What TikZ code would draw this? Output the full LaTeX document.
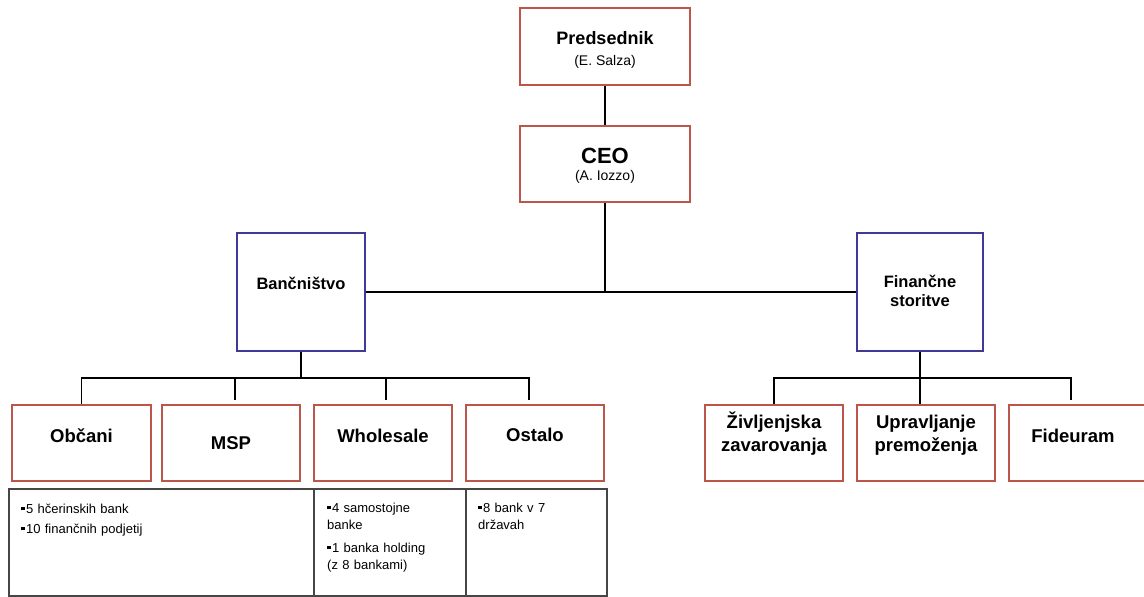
\documentclass[tikz,border=0pt]{standalone}
\usepackage{fontspec}
\setmainfont{Liberation Sans}
\usetikzlibrary{calc}
\definecolor{unitred}{RGB}{188,86,74}
\definecolor{divblue}{RGB}{64,58,150}
\definecolor{gridgray}{RGB}{70,70,70}
% small square bullet
\newcommand\sqbul{\raisebox{0.2em}{\rule{0.3em}{0.3em}}\kern1pt}
\tikzset{
  unit/.style={draw=unitred, line width=1.6pt, fill=white, inner sep=0pt},
  division/.style={draw=divblue, line width=1.6pt, fill=white, inner sep=0pt},
  cell/.style={draw=gridgray, line width=1.4pt, inner sep=0pt},
  link/.style={line width=1.5pt, draw=black},
  headtxt/.style={inner sep=0pt, anchor=base, font=\bfseries\fontsize{18}{20}\selectfont},
  subtxt/.style={inner sep=0pt, anchor=base, font=\fontsize{14}{16}\selectfont},
  divtxt/.style={inner sep=0pt, anchor=base, align=center, font=\bfseries\fontsize{16.5}{19}\selectfont},
  unittxt/.style={inner sep=0pt, anchor=base, align=center, font=\bfseries\fontsize{18.5}{23}\selectfont},
  listtxt/.style={inner sep=0pt, anchor=base west, align=left, font=\fontsize{13}{17}\selectfont},
}
\begin{document}
\begin{tikzpicture}[x=1pt, y=-1pt]
\useasboundingbox (0,0) rectangle (1144,597);

% management
\node[unit, minimum width=170pt, minimum height=77pt] (pres) at (605,46.5) {};
\node[unit, minimum width=170pt, minimum height=76pt] (ceo) at (605,164) {};
\node[headtxt] (presT) at (605,44) {Predsednik};
\node[subtxt] (presS) at (605,65) {(E. Salza)};
\node[headtxt, font=\bfseries\fontsize{22}{24}\selectfont] (ceoT) at (605,163) {CEO};
\node[subtxt] (ceoS) at (605,180) {(A. Iozzo)};

% divisions (two-line labels are placed by their last baseline)
\node[division, minimum width=128pt, minimum height=118pt] (bank) at (301,292) {};
\node[division, minimum width=126pt, minimum height=118pt] (fin) at (920,292) {};
\node[divtxt] (bankT) at (301,289) {Bančništvo};
\node[divtxt] (finT) at (920,306) {Finančne\\storitve};

% business units
\node[unit, minimum width=139pt, minimum height=76pt] (obc) at (81.5,443) {};
\node[unit, minimum width=138pt, minimum height=76pt] (msp) at (231,443) {};
\node[unit, minimum width=138pt, minimum height=76pt] (whs) at (383,443) {};
\node[unit, minimum width=138pt, minimum height=76pt] (ost) at (535,443) {};
\node[unit, minimum width=138pt, minimum height=76pt] (ziv) at (774,443) {};
\node[unit, minimum width=138pt, minimum height=76pt] (upr) at (926,443) {};
\node[unit, minimum width=138pt, minimum height=76pt] (fid) at (1078,443) {};

\node[unittxt] (obcT) at (81.5,442) {Občani};
\node[unittxt] (mspT) at (231,449) {MSP};
\node[unittxt] (whsT) at (383,442) {Wholesale};
\node[unittxt] (ostT) at (535,441) {Ostalo};
\node[unittxt] (zivT) at (774,451) {Življenjska\\zavarovanja};
\node[unittxt] (uprT) at (926,451) {Upravljanje\\premoženja};
\node[unittxt] (fidT) at (1073,442) {Fideuram};

% detail table
\node[cell, minimum width=305pt, minimum height=107pt] (c1) at (161.5,542.5) {};
\node[cell, minimum width=152pt, minimum height=107pt] (c2) at (390,542.5) {};
\node[cell, minimum width=141pt, minimum height=107pt] (c3) at (536.5,542.5) {};
\node[listtxt, text width=280pt] (c1T) at (21,513)
  {\sqbul 5 hčerinskih bank\\[3pt]\sqbul 10 finančnih podjetij};
\node[listtxt, text width=135pt] (c2T) at (327,512)
  {\sqbul 4 samostojne\\banke\\[6pt]\sqbul 1 banka holding\\(z 8 bankami)};
\node[listtxt, text width=125pt] (c3T) at (478,512)
  {\sqbul 8 bank v 7\\državah};

% connectors
\coordinate (bus) at (0,378);
\draw[link] (pres) -- (ceo);
\draw[link] (ceo.south) -- (ceo.south |- bank.east);
\draw[link] (bank.east) -- (bank.east -| fin.west);

\draw[link] (bank.south) -- (bank.south |- bus);
\draw[link] (obc.north) -- (obc.north |- bus) -- ([xshift=-6pt]ost.north |- bus) -- ++(0,22);
\draw[link] ([xshift=4pt]msp.north |- bus) -- ++(0,22);
\draw[link] ([xshift=3pt]whs.north |- bus) -- ++(0,22);

\draw[link] (fin.south) -- (fin.south |- upr.north);
\draw[link] (ziv.north) |- ([xshift=-7pt]fid.north |- bus) -- ++(0,22);
\end{tikzpicture}
\end{document}
